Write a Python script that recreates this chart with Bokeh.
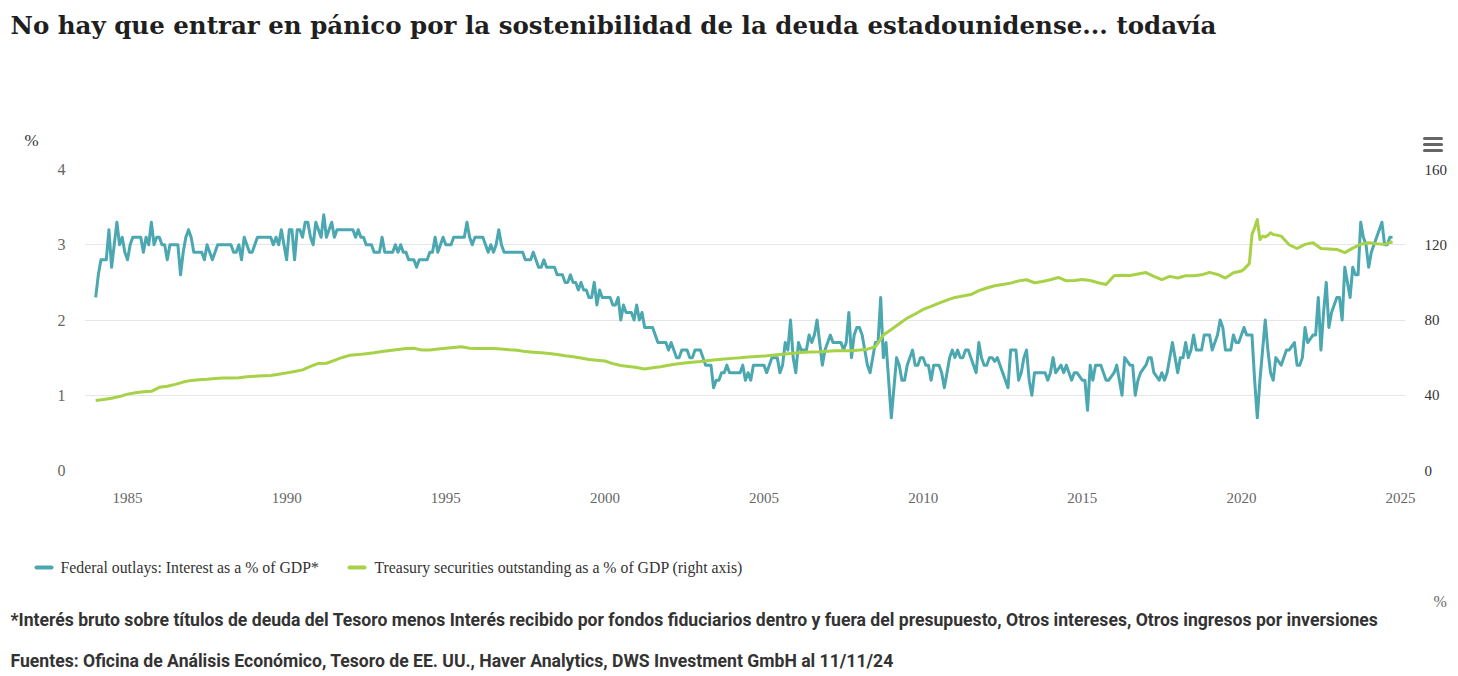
from bokeh.plotting import figure
from bokeh.layouts import column
from bokeh.models import Range1d, LinearAxis, FixedTicker
from bokeh.core.properties import value
from bokeh.embed import file_html
from bokeh.resources import INLINE

# ---------------- data ----------------
TITLE = "No hay que entrar en pánico por la sostenibilidad de la deuda estadounidense... todavía"
SERIES_NAMES = ["Federal outlays: Interest as a % of GDP*",
                "Treasury securities outstanding as a % of GDP (right axis)"]
NOTE = ("*Interés bruto sobre títulos de deuda del Tesoro menos Interés recibido por fondos "
        "fiduciarios dentro y fuera del presupuesto, Otros intereses, Otros ingresos por inversiones")
SOURCE = "Fuentes: Oficina de Análisis Económico, Tesoro de EE. UU., Haver Analytics, DWS Investment GmbH al 11/11/24"
UNIT = "%"

year_ticks = [1985, 1990, 1995, 2000, 2005, 2010, 2015, 2020, 2025]
left_ticks = [0, 1, 2, 3, 4]
right_ticks = [0, 40, 80, 120, 160]

# Interest as % of GDP, monthly from Jan 1984
interest_1984_1993 = [
    2.3, 2.6, 2.8, 2.8, 2.8, 3.2, 2.7, 3.0, 3.3, 3.0, 3.1, 2.9,
    2.8, 3.0, 3.1, 3.1, 3.1, 3.1, 2.9, 3.1, 3.0, 3.3, 3.0, 3.1,
    3.1, 3.0, 3.0, 2.8, 3.0, 3.0, 3.0, 3.0, 2.6, 2.9, 3.1, 3.2,
    3.1, 2.9, 2.9, 2.9, 2.9, 2.8, 3.0, 2.9, 2.8, 2.9, 3.0, 3.0,
    3.0, 3.0, 3.0, 3.0, 2.9, 2.9, 3.0, 2.8, 3.1, 3.0, 2.9, 2.9,
    3.0, 3.1, 3.1, 3.1, 3.1, 3.1, 3.1, 3.0, 3.1, 3.0, 3.2, 3.0,
    2.8, 3.2, 3.2, 2.8, 3.2, 3.2, 3.1, 3.3, 3.3, 3.1, 3.0, 3.3,
    3.2, 3.1, 3.4, 3.1, 3.2, 3.3, 3.1, 3.2, 3.2, 3.2, 3.2, 3.2,
    3.2, 3.2, 3.1, 3.2, 3.1, 3.1, 3.0, 3.0, 3.0, 2.9, 2.9, 2.9,
    3.1, 2.9, 2.9, 2.9, 2.9, 3.0, 2.9, 3.0, 2.9, 2.9, 2.8, 2.8,
]
interest_1994_2003 = [
    2.8, 2.7, 2.8, 2.8, 2.8, 2.8, 2.9, 2.9, 3.1, 2.9, 3.0, 3.1,
    3.0, 3.0, 3.0, 3.1, 3.1, 3.1, 3.1, 3.1, 3.3, 3.1, 3.0, 3.1,
    3.1, 3.1, 3.1, 3.0, 2.9, 3.0, 2.9, 3.0, 3.2, 3.0, 2.9, 2.9,
    2.9, 2.9, 2.9, 2.9, 2.9, 2.9, 2.8, 2.8, 2.8, 2.9, 2.8, 2.7,
    2.7, 2.8, 2.7, 2.7, 2.7, 2.7, 2.6, 2.6, 2.6, 2.5, 2.5, 2.6,
    2.5, 2.5, 2.4, 2.5, 2.4, 2.4, 2.3, 2.3, 2.5, 2.2, 2.4, 2.3,
    2.3, 2.3, 2.3, 2.2, 2.2, 2.3, 2.0, 2.2, 2.1, 2.1, 2.1, 2.0,
    2.2, 2.0, 2.1, 1.9, 1.9, 1.9, 1.9, 1.8, 1.7, 1.7, 1.7, 1.7,
    1.6, 1.7, 1.6, 1.5, 1.5, 1.6, 1.6, 1.6, 1.5, 1.5, 1.6, 1.6,
    1.6, 1.5, 1.4, 1.4, 1.4, 1.1, 1.2, 1.2, 1.3, 1.3, 1.4, 1.3,
]
interest_2004_2013 = [
    1.3, 1.3, 1.3, 1.3, 1.4, 1.2, 1.3, 1.2, 1.4, 1.4, 1.4, 1.4,
    1.4, 1.3, 1.4, 1.5, 1.5, 1.5, 1.3, 1.4, 1.7, 1.6, 2.0, 1.5,
    1.3, 1.7, 1.6, 1.6, 1.6, 1.8, 1.7, 1.8, 2.0, 1.7, 1.4, 1.6,
    1.7, 1.8, 1.7, 1.7, 1.7, 1.7, 1.6, 1.7, 2.1, 1.5, 1.8, 1.9,
    1.9, 1.8, 1.6, 1.4, 1.3, 1.5, 1.7, 1.7, 2.3, 1.5, 1.7, 1.2,
    0.7, 1.1, 1.5, 1.4, 1.2, 1.2, 1.4, 1.5, 1.6, 1.4, 1.4, 1.5,
    1.5, 1.4, 1.4, 1.2, 1.4, 1.4, 1.4, 1.3, 1.1, 1.3, 1.5, 1.6,
    1.5, 1.6, 1.5, 1.5, 1.6, 1.6, 1.5, 1.4, 1.3, 1.7, 1.5, 1.4,
    1.4, 1.5, 1.5, 1.45, 1.5, 1.4, 1.3, 1.2, 1.1, 1.6, 1.6, 1.6,
    1.2, 1.3, 1.5, 1.6, 1.2, 1.0, 1.3, 1.3, 1.3, 1.3, 1.3, 1.2,
]
interest_2014_2024 = [
    1.3, 1.5, 1.3, 1.35, 1.4, 1.3, 1.4, 1.3, 1.2, 1.3, 1.3, 1.25,
    1.2, 1.2, 0.8, 1.4, 1.2, 1.4, 1.4, 1.4, 1.3, 1.2, 1.2, 1.25,
    1.3, 1.4, 1.2, 1.0, 1.5, 1.45, 1.4, 1.4, 1.0, 1.2, 1.3, 1.35,
    1.4, 1.5, 1.5, 1.3, 1.25, 1.2, 1.3, 1.2, 1.3, 1.5, 1.7, 1.5,
    1.3, 1.5, 1.5, 1.7, 1.5, 1.6, 1.8, 1.6, 1.6, 1.6, 1.8, 1.8,
    1.8, 1.6, 1.7, 1.8, 2.0, 1.9, 1.6, 1.6, 1.6, 1.8, 1.7, 1.7,
    1.8, 1.9, 1.8, 1.8, 1.8, 1.2, 0.7, 1.2, 1.6, 2.0, 1.6, 1.3,
    1.2, 1.5, 1.45, 1.4, 1.5, 1.6, 1.6, 1.65, 1.7, 1.4, 1.4, 1.5,
    1.9, 1.7, 1.75, 1.8, 1.8, 2.3, 1.6, 2.1, 2.5, 1.9, 2.1, 2.2,
    2.3, 2.3, 2.0, 2.7, 2.5, 2.3, 2.7, 2.6, 2.6, 3.3, 3.1, 3.0,
    2.7, 2.9, 3.0, 3.1, 3.2, 3.3, 3.0, 3.0, 3.1, 3.1,
]

# Treasury securities outstanding, % of GDP
debt_1984_2019_quarterly = [
    37.2, 37.7, 38.4, 39.3,   40.6, 41.3, 41.9, 42.1,   44.2, 44.8, 45.8, 47.0,
    47.9, 48.2, 48.5, 48.9,   49.2, 49.2, 49.3, 49.8,   50.1, 50.3, 50.5, 51.2,
    51.9, 52.6, 53.5, 55.3,   56.9, 57.0, 58.5, 60.1,   61.3, 61.6, 62.1, 62.6,
    63.2, 63.8, 64.3, 64.8,   65.0, 64.0, 64.0, 64.6,   65.0, 65.4, 65.8, 65.0,
    64.8, 64.8, 64.8, 64.6,   64.2, 63.9, 63.2, 62.9,   62.6, 62.2, 61.7, 61.0,
    60.5, 59.8, 59.0, 58.6,   58.2, 56.8, 55.8, 55.3,   54.8, 54.0, 54.6, 55.2,
    55.9, 56.6, 57.2, 57.6,   58.0, 58.5, 58.9, 59.3,   59.6, 59.9, 60.3, 60.6,
    60.8, 61.3, 61.7, 62.1,   62.5, 62.8, 63.0, 63.1,   63.4, 63.6, 63.6, 63.6,
    64.0, 64.5, 65.8, 72.0,   75.0, 78.0, 81.0, 83.2,   85.6, 87.2, 89.0, 90.6,
    92.0, 92.8, 93.5, 95.6,   97.0, 98.2, 98.9, 99.6,   100.8, 101.4, 99.8, 100.5,
    101.4, 102.6, 100.8, 101.0, 101.5, 101.0, 99.8, 98.9, 103.5, 103.8, 103.7, 104.5,
    105.2, 103.2, 101.5, 103.2, 102.3, 103.5, 103.5, 104.0, 105.3, 104.2, 102.3, 105.1,
]
debt_2020_monthly = [106.0, 107.0, 108.5, 110.0, 125.5, 129.0, 133.4, 122.8, 124.6, 124.1, 125.0, 126.4]
debt_2021_2024_quarterly = [
    125.5, 124.6, 120.0, 118.0,   120.2, 121.1, 118.0, 117.8,
    117.5, 115.8, 118.2, 120.3,   121.1, 120.5, 120.2, 121.6,
]

# ---------------- x positions (decimal years) ----------------
interest = interest_1984_1993 + interest_1994_2003 + interest_2004_2013 + interest_2014_2024
x_interest = [1984 + i / 12 for i in range(len(interest))]

debt = debt_1984_2019_quarterly + debt_2020_monthly + debt_2021_2024_quarterly
x_debt = ([1984 + i / 4 for i in range(len(debt_1984_2019_quarterly))]
          + [2020 + i / 12 for i in range(len(debt_2020_monthly))]
          + [2021 + i / 4 for i in range(len(debt_2021_2024_quarterly))])

# ---------------- styling / layout ----------------
TEAL = "#4ba7b0"
GREEN = "#a7d146"
W = 1458
TOP_H, MAIN_H, BOT_H = 152, 378, 146          # 152 + 378 + 146 = 676
F_LEFT, F_RIGHT = 84, 1405                    # plot frame, page pixels
F_TOP, F_BOTTOM = 169, 470
PX_PER_YEAR = (1400 - 127) / 40.0             # 1985 tick at x=127, 2025 at x=1400
x_lo = 1985 - (127 - F_LEFT) / PX_PER_YEAR
x_hi = 1985 + (F_RIGHT - 127) / PX_PER_YEAR

SERIF = "Liberation Serif"
NOTE_FONT = "Roboto"


def blank(height):
    f = figure(width=W, height=height, output_backend="svg", toolbar_location=None,
               x_range=Range1d(0, W), y_range=Range1d(height, 0),
               x_axis_type=None, y_axis_type=None, min_border=0)
    f.frame_align = False
    f.outline_line_color = None
    f.grid.visible = False
    f.background_fill_color = "white"
    f.border_fill_color = "white"
    return f


# ---- header ----
top = blank(TOP_H)
top.text(x=[10], y=[25], text=[TITLE], text_font=value("DejaVu Serif"), text_font_style="bold",
         text_font_size=value("24.5px"), text_color="#1f1f1f", text_baseline="middle")
top.text(x=[24], y=[140], text=[UNIT], text_font=value(SERIF), text_font_size=value("17px"),
         text_color="#333333", text_baseline="middle")
top.segment(x0=[1424] * 3, x1=[1441] * 3, y0=[138, 144, 150], y1=[138, 144, 150],
            line_color="#666666", line_width=3, line_cap="round")

# ---- main chart ----
p = figure(width=W, height=MAIN_H, output_backend="svg", toolbar_location=None,
           x_range=Range1d(x_lo, x_hi), y_range=Range1d(0, 4),
           min_border_left=F_LEFT, min_border_right=W - F_RIGHT,
           min_border_top=F_TOP - TOP_H, min_border_bottom=TOP_H + MAIN_H - F_BOTTOM)
p.frame_align = False
p.extra_y_ranges = {"debt": Range1d(0, 160)}
p.outline_line_color = None
p.background_fill_color = "white"
p.border_fill_color = "white"

p.xgrid.visible = False
p.ygrid.ticker = FixedTicker(ticks=left_ticks)
p.ygrid.grid_line_color = "#e6e6e6"
p.ygrid.grid_line_width = 1

xa = p.xaxis[0]
xa.ticker = FixedTicker(ticks=year_ticks)
xa.axis_line_color = None
xa.major_tick_line_color = None
xa.minor_tick_line_color = None
xa.major_label_text_font = SERIF
xa.major_label_text_font_size = "15px"
xa.major_label_text_color = "#666666"
xa.major_label_standoff = 16

ya = p.yaxis[0]
ya.ticker = FixedTicker(ticks=left_ticks)
ya.axis_line_color = None
ya.major_tick_line_color = None
ya.minor_tick_line_color = None
ya.major_label_text_font = SERIF
ya.major_label_text_font_size = "16px"
ya.major_label_text_color = "#666666"
ya.major_label_standoff = 13

ra = LinearAxis(y_range_name="debt", ticker=FixedTicker(ticks=right_ticks))
ra.axis_line_color = None
ra.major_tick_line_color = None
ra.minor_tick_line_color = None
ra.major_label_text_font = SERIF
ra.major_label_text_font_size = "15px"
ra.major_label_text_color = "#333333"
ra.major_label_standoff = 13
p.add_layout(ra, "right")

p.line(x_interest, interest, line_color=TEAL, line_width=3, line_join="round")
p.line(x_debt, debt, line_color=GREEN, line_width=3, line_join="round", y_range_name="debt")

# ---- footer: legend + notes ----
bot = blank(BOT_H)
Y0 = TOP_H + MAIN_H
bot.segment(x0=[36, 349], x1=[51, 364], y0=[567 - Y0] * 2, y1=[567 - Y0] * 2,
            line_color=[TEAL, GREEN], line_width=4, line_cap="round")
bot.text(x=[60, 374], y=[567 - Y0] * 2, text=SERIES_NAMES, text_font=value(SERIF),
         text_font_size=value("15.8px"), text_color="#333333", text_baseline="middle")
bot.text(x=[1433], y=[601 - Y0], text=[UNIT], text_font=value(SERIF), text_font_size=value("16px"),
         text_color="#666666", text_baseline="middle")
bot.text(x=[10, 10], y=[619 - Y0, 660 - Y0], text=[NOTE, SOURCE], text_font=value(NOTE_FONT),
         text_font_style="bold", text_font_size=value("17.6px"), text_color="#333333",
         text_baseline="middle")

page = column(top, p, bot, spacing=0)
open("out.html", "w").write(file_html(page, INLINE))
